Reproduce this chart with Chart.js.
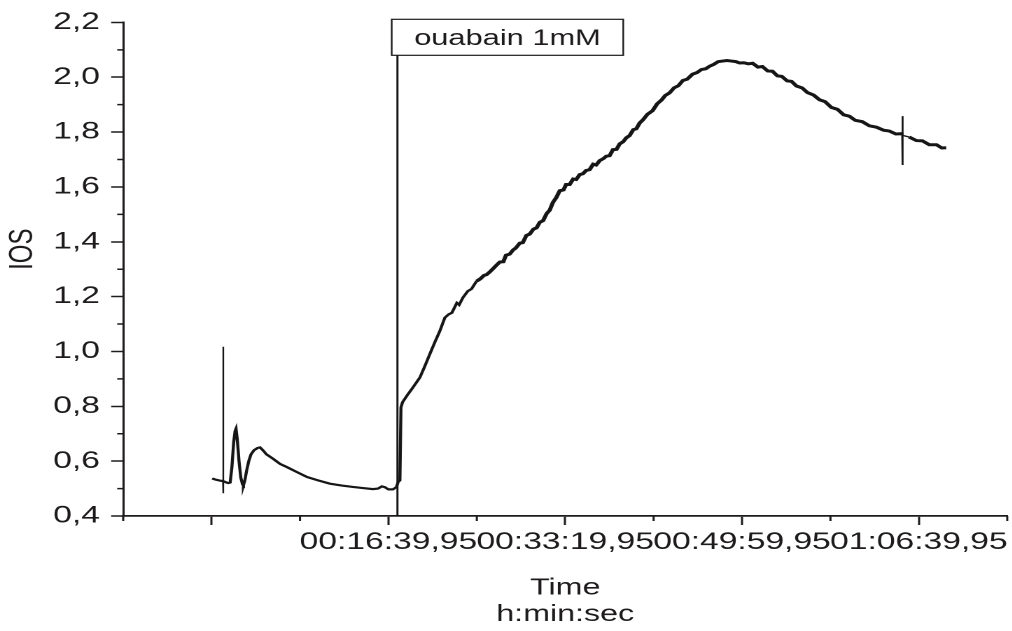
<!DOCTYPE html>
<html>
<head>
<meta charset="utf-8">
<script src="https://cdn.jsdelivr.net/npm/chart.js@4.4.1/dist/chart.umd.min.js"></script>
<style>
  html, body { margin: 0; padding: 0; background: #ffffff; overflow: hidden; }
  #wrap { width: 723px; height: 631px; transform: scaleX(1.4); transform-origin: 0 0; }
</style>
</head>
<body>
<div id="wrap"><canvas id="c" width="723" height="631"></canvas></div>
<script>
// ---- data (time in seconds, IOS value) ----
const timeSec = [3,20,40,55,64,65,66,67,80,95,105,115,125,133,138,145,155,165,175,180,188,198,210,223,240,260,274,290,310,347,387,427,483,540,602,669,737,799,856,912,941,963,980,1000,1025,1045,1055,1065,1071,1080,1105,1140,1178,1205,1234,1262,1291,1319,1340,1359,1387,1400,1421,1449,1470,1498,
  1520,1540,1555,1573,1595,1610,1630,1650,1665,1686,1705,1720,1743,1760,1780,1799,1820,1838,1856,1875,1895,1912,1930,1950,1969,1990,2005,2025,2045,2062,2082,2100,2118,2138,2158,2175,2195,2215,2232,2251,2270,2290,2308,2328,2345,2364,2385,2402,2421,2440,2465,2494,2520,2545,2565,2590,2615,2640,2665,2690,2720,2745,2770,2795,2816,2840,2865,2890,2915,2940,2965,2986,3010,3035,3060,3090,3115,3145,3172,3200,3225,3255,3280,3308,3340,3370,3405,3438,3470,3505,3540,3575,3607,3640,3680,3720,3760,3800,3833,3870,3900,3906,3907,3908,3909,3945,3986,4020,4059,4100,4130,4155];
const iosValues = [0.537,0.533,0.530,0.528,0.528,1.017,0.483,0.527,0.523,0.520,0.522,0.58,0.67,0.710,0.718,0.68,0.60,0.54,0.515,0.512,0.53,0.565,0.60,0.625,0.640,0.648,0.650,0.640,0.625,0.609,0.590,0.578,0.560,0.542,0.530,0.518,0.511,0.506,0.502,0.498,0.500,0.508,0.505,0.497,0.497,0.505,0.524,0.530,0.796,0.815,0.839,0.870,0.905,0.945,0.990,1.033,1.075,1.123,1.135,1.141,1.177,1.170,1.196,1.220,1.228,1.256,
  1.265,1.277,1.280,1.290,1.304,1.314,1.326,1.327,1.351,1.355,1.370,1.377,1.395,1.397,1.423,1.428,1.446,1.451,1.471,1.477,1.503,1.515,1.543,1.562,1.586,1.589,1.609,1.609,1.629,1.627,1.645,1.648,1.660,1.663,1.683,1.680,1.696,1.703,1.712,1.714,1.736,1.737,1.757,1.765,1.779,1.787,1.809,1.812,1.833,1.845,1.865,1.878,1.903,1.917,1.933,1.943,1.961,1.969,1.988,1.993,2.011,2.017,2.028,2.031,2.040,2.047,2.057,2.059,2.061,2.059,2.057,2.052,2.053,2.049,2.051,2.037,2.039,2.023,2.022,2.005,2.003,1.987,1.985,1.968,1.961,1.944,1.935,1.918,1.911,1.890,1.883,1.863,1.858,1.843,1.838,1.823,1.818,1.807,1.804,1.793,1.794,1.790,1.858,1.680,1.788,1.782,1.769,1.768,1.754,1.754,1.742,1.743];

const ouabainTime = 1051;
const ouabainTop = 2.08;
const ouabainLabel = 'ouabain 1mM';

const xTickValues = [0, 1000, 2000, 3000, 4000];
const xTickLabels = ['', '00:16:39,95', '00:33:19,95', '00:49:59,95', '01:06:39,95'];
const xMinorValues = [-500, 500, 1500, 2500, 3500, 4500];
const yTickValues = [0.4, 0.6, 0.8, 1.0, 1.2, 1.4, 1.6, 1.8, 2.0, 2.2];
const yTickLabels = ['0,4', '0,6', '0,8', '1,0', '1,2', '1,4', '1,6', '1,8', '2,0', '2,2'];
const yMinorValues = [0.5, 0.7, 0.9, 1.1, 1.3, 1.5, 1.7, 1.9, 2.1];

const INK = '#1e1b1c';
const FONT = '"Liberation Sans", Arial, Helvetica, sans-serif';

const minorTicks = {
  id: 'minorTicks',
  afterDraw(chart) {
    const { ctx, scales: { x, y } } = chart;
    ctx.save();
    ctx.strokeStyle = INK;
    ctx.lineWidth = 1.5;
    ctx.beginPath();
    xMinorValues.forEach(v => {
      const px = x.getPixelForValue(v);
      ctx.moveTo(px, x.top);
      ctx.lineTo(px, x.top + 5);
    });
    yMinorValues.forEach(v => {
      const py = y.getPixelForValue(v);
      ctx.moveTo(y.right - 4.3, py);
      ctx.lineTo(y.right, py);
    });
    ctx.stroke();
    ctx.restore();
  }
};

const labelBox = {
  id: 'labelBox',
  afterDraw(chart) {
    const { ctx, scales: { x, y } } = chart;
    const lx = x.getPixelForValue(ouabainTime);
    const bottom = y.getPixelForValue(ouabainTop);
    const h = 36, w = 165.4;
    const left = lx - 4.1, top = bottom - h;
    ctx.save();
    ctx.fillStyle = '#ffffff';
    ctx.fillRect(left, top, w, h);
    ctx.strokeStyle = INK;
    ctx.lineWidth = 1.2;
    ctx.strokeRect(left, top, w, h);
    ctx.fillStyle = INK;
    ctx.font = '22px ' + FONT;
    ctx.textAlign = 'center';
    ctx.textBaseline = 'middle';
    ctx.fillText(ouabainLabel, left + w / 2, top + h / 2 + 1.5);
    ctx.restore();
  }
};

new Chart(document.getElementById('c'), {
  type: 'line',
  data: {
    datasets: [
      {
        data: timeSec.map((t, i) => ({ x: t, y: iosValues[i] })),
        borderColor: '#161616',
        borderWidth: 2,
        segment: {
          borderWidth: c => {
            const x0 = c.p0.parsed.x;
            if (x0 >= 3905 && x0 <= 3909) return 1.4;
            if (x0 >= 64 && x0 <= 66) return 1.2;
            return x0 > 1480 ? 3 : 2.2;
          }
        },
        pointRadius: 0,
        tension: 0,
        fill: false
      },
      {
        data: [{ x: ouabainTime, y: 0.4 }, { x: ouabainTime, y: ouabainTop }],
        borderColor: '#161616',
        borderWidth: 1.5,
        pointRadius: 0,
        fill: false
      }
    ]
  },
  options: {
    responsive: false,
    animation: false,
    devicePixelRatio: 2,
    layout: { padding: { top: 20, right: 3, left: 0, bottom: 0 } },
    plugins: { legend: { display: false }, tooltip: { enabled: false } },
    scales: {
      x: {
        type: 'linear',
        min: -500,
        max: 4500,
        afterBuildTicks: s => { s.ticks = xTickValues.map(v => ({ value: v })); },
        afterFit: s => { s.height = 115; },
        grid: { drawOnChartArea: false, drawTicks: true, tickLength: 9, tickWidth: 1.5, tickColor: INK },
        border: { display: true, color: INK, width: 1.8 },
        ticks: {
          autoSkip: false, maxRotation: 0, minRotation: 0, padding: 3,
          color: INK, font: { family: FONT, size: 24 },
          callback: (v, i) => xTickLabels[i]
        },
        title: {
          display: true, text: ['Time', 'h:min:sec'], color: INK,
          font: { family: FONT, size: 23, lineHeight: 1.15 },
          padding: { top: 0, bottom: 3 }
        }
      },
      y: {
        type: 'linear',
        min: 0.4,
        max: 2.2,
        afterBuildTicks: s => { s.ticks = yTickValues.map(v => ({ value: v })); },
        afterFit: s => { s.width = 88; },
        grid: { drawOnChartArea: false, drawTicks: true, tickLength: 8.6, tickWidth: 1.5, tickColor: INK },
        border: { display: true, color: INK, width: 1.5 },
        ticks: {
          padding: 8, color: INK, font: { family: FONT, size: 24 },
          callback: (v, i) => yTickLabels[i]
        },
        title: {
          display: true, text: '      IOS', color: INK,
          font: { family: FONT, size: 24 },
          padding: { top: 2, bottom: 0 }
        }
      }
    }
  },
  plugins: [minorTicks, labelBox]
});
</script>
</body>
</html>
